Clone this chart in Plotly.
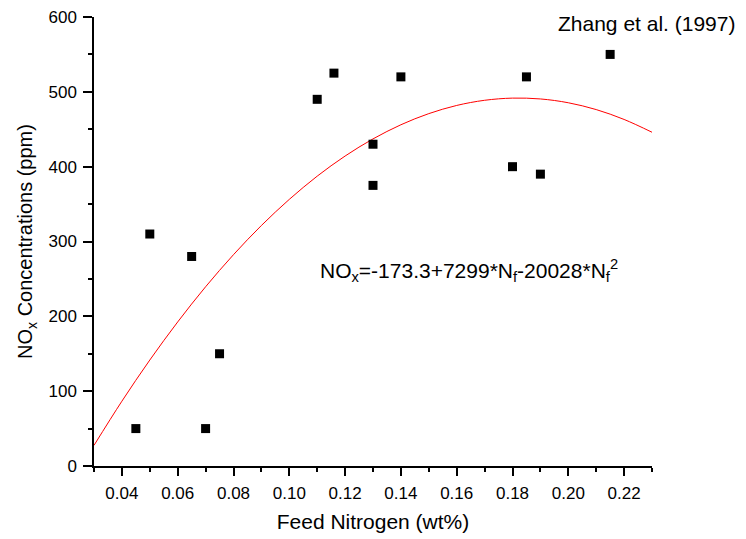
import plotly.graph_objects as go

# Measured data points
feed_n = [0.045, 0.05, 0.065, 0.07, 0.075, 0.11, 0.116, 0.13, 0.13, 0.14, 0.18, 0.185, 0.19, 0.215]
nox = [50, 310, 280, 50, 150, 490, 525, 430, 375, 520, 400, 520, 390, 550]

# Fitted curve
fit_x = [0.03, 0.04, 0.05, 0.06, 0.07, 0.08, 0.09, 0.10, 0.11, 0.12, 0.13,
         0.14, 0.15, 0.16, 0.17, 0.18, 0.19, 0.20, 0.21, 0.22, 0.23]
fit_y = [27.6, 86.6, 141.6, 192.5, 239.5, 282.4, 321.4, 356.3, 387.3, 414.2, 437.1,
         456.0, 470.9, 481.8, 488.7, 491.6, 490.5, 485.4, 476.3, 463.1, 446.0]

FONT = "Liberation Sans, Arial, sans-serif"

fig = go.Figure()
fig.add_trace(go.Scatter(x=fit_x, y=fit_y, mode="lines", line=dict(color="red", width=1, shape="spline"),
                         showlegend=False, hoverinfo="skip"))
fig.add_trace(go.Scatter(x=feed_n, y=nox, mode="markers",
                         marker=dict(symbol="square", size=9, color="black"), showlegend=False))

fig.update_layout(
    width=746, height=539,
    margin=dict(l=94, r=94, t=17, b=73),
    paper_bgcolor="white", plot_bgcolor="white",
    font=dict(family=FONT, size=17, color="black"),
    xaxis=dict(range=[0.03, 0.23], tick0=0, dtick=0.02, tickformat=".2f", automargin=False,
               showgrid=False, zeroline=False, showline=True, linecolor="black", linewidth=1.5,
               ticks="outside", ticklen=8, tickwidth=1.5, tickcolor="black", ticklabelstandoff=3,
               minor=dict(ticks="outside", ticklen=4, dtick=0.01, tick0=0, tickcolor="black", tickwidth=1.5),
               title=dict(text="Feed Nitrogen (wt%)", font=dict(size=21), standoff=12),
               tickfont=dict(size=17)),
    yaxis=dict(range=[0, 600], dtick=100, automargin=False,
               showgrid=False, zeroline=False, showline=True, linecolor="black", linewidth=1.5,
               ticks="outside", ticklen=9, tickwidth=1.5, tickcolor="black", ticklabelstandoff=3,
               minor=dict(ticks="outside", ticklen=4, dtick=50, tickcolor="black", tickwidth=1.5),
               title=dict(text="NO<sub>x</sub> Concentrations (ppm)", font=dict(size=20), standoff=10),
               tickfont=dict(size=17)),
    annotations=[
        dict(text="NO<sub>x</sub>=-173.3+7299*N<sub>f</sub>-20028*N<sub>f</sub><sup>2</sup>",
             x=(469 - 94) / 558, y=(466 - 270) / 449, xref="paper", yref="paper", showarrow=False,
             font=dict(size=21, family=FONT), xanchor="center", yanchor="middle"),
        dict(text="Zhang et al. (1997)", x=(737 - 94) / 558, y=(466 - 24) / 449, xref="paper", yref="paper",
             showarrow=False, font=dict(size=21, family=FONT), xanchor="right", yanchor="middle"),
    ],
)

fig.write_html("out.html")
